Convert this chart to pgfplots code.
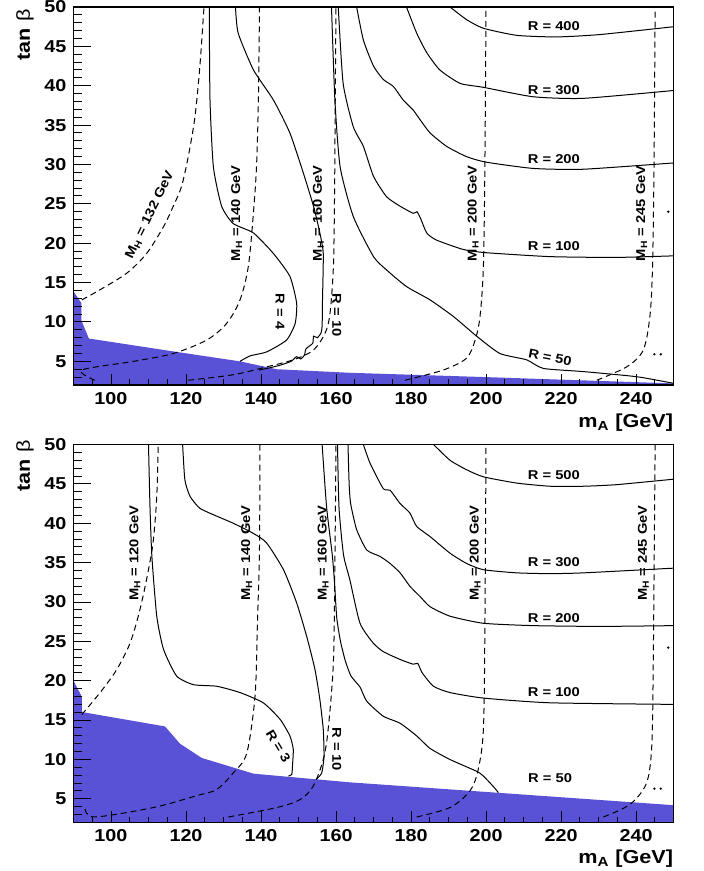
\documentclass[border=0pt]{standalone}
\usepackage{fontspec}
\setmainfont{Liberation Sans}[FakeStretch=1.15]
\usepackage{pgfplots}
\pgfplotsset{compat=1.18}
\definecolor{excl}{RGB}{90,82,214}
\tikzset{lbl/.style={font=\fontsize{6.4}{7}\selectfont\bfseries, inner sep=0.5pt}}
\pgfplotsset{
  base/.style={
    scale only axis, width=300pt, height=189pt,
    xmin=90, xmax=250, ymin=2, ymax=50,
    axis on top, tick align=inside, tick pos=left,
    axis line style={line width=0.6pt},
    every tick/.style={black, line width=0.5pt},
    /pgf/number format/assume math mode=true,
    ticklabel style={font=\fontsize{8.6}{10}\selectfont\bfseries},
    no markers,
  },
  xpart/.style={xtick={80,100,...,260}, minor x tick num=3, ytick=\empty,
    major tick length=5.7pt, minor tick length=2.9pt},
  ypart/.style={xtick=\empty, ytick={0,5,...,50}, minor y tick num=4,
    major tick length=8.8pt, minor tick length=4.3pt},
  cont/.style={black, line width=0.5pt, smooth, tension=0.35},
  mh/.style={black, line width=0.5pt, dash pattern=on 3pt off 2pt, smooth, tension=0.5},
}
\begin{document}
\begin{tikzpicture}[x=1pt,y=1pt]
\useasboundingbox (0,0) rectangle (352,435.5);
% ================= TOP PANEL =================
\begin{axis}[base, xpart, at={(36.75pt,243pt)}, anchor=south west]
\addplot[fill=excl, draw=none] coordinates {(90,13.9)(92.1,12.4)(92.1,10.2)(94.1,7.9)(117.5,6.2)(134.4,5.0)(144.2,4.0)(163.7,3.55)(200,3.0)(250,2.2)(250,0)(90,0)};
% contours
\addplot[cont] coordinates {(190.4,50)(194.8,48.4)(199.3,47.3)(208.2,46.4)(218.8,46.2)(230.4,46.5)(250.1,47.5)};
\addplot[cont] coordinates {(178.8,50)(181.5,46.7)(184.2,44.2)(187.7,42.0)(193.1,40.3)(199.3,39.8)(212.6,38.6)(226,38.4)(250.1,39.4)};
\addplot[cont] coordinates {(165.5,50)(167.3,45.8)(170.0,42.5)(172.6,40.8)(175.3,39.9)(177.9,38.2)(180.6,36.9)(182.4,35.7)(185.1,34.0)(189.5,32.3)(194.8,31.0)(200,30.3)(212.6,29.5)(226,29.4)(250.1,30.2)};
\addplot[cont] coordinates {(160.6,50)(161.9,40.3)(164.6,34.8)(167.3,32.3)(170.0,28.5)(173.5,25.9)(177.1,24.7)(180.6,23.8)(181.6,24.0)(182.6,23.1)(184.2,21.3)(186.8,20.4)(194.0,19.2)(200,18.8)(217.1,18.3)(234.8,18.2)(250.1,18.4)};
\addplot[cont] coordinates {(158.8,50)(159.7,38.2)(161.1,29.7)(164.6,23.4)(170.0,18.3)(173.5,16.6)(178.8,14.5)(185.1,12.8)(191.3,10.7)(197.5,8.2)(203.7,6.0)(210.8,5.2)(215.3,4.1)(226.0,3.7)(240.2,3.05)(250.1,2.2)};
\addplot[cont] coordinates {(133.2,50)(133.9,46.7)(138.0,42.0)(143.3,38.2)(147.7,34.0)(151.3,28.9)(154.0,24.7)(155.7,21.3)(156.6,18.7)(156.4,12.8)(156.3,9.5)(156.0,8.6)(155.0,8.0)(154.0,8.2)(153.8,7.3)(152.0,6.6)(151.6,5.8)(150.6,5.3)(149.5,5.6)(148,5.0)(145,4.5)(142,4.15)(139.5,3.9)};
\addplot[cont] coordinates {(126.2,50)(126.4,38.2)(127.3,29.7)(129.5,24.7)(132.6,22.5)(138.0,21.3)(143.3,18.7)(147.7,15.8)(149.5,12.4)(149.1,9.8)(146.8,7.7)(141.5,6.2)(137.1,5.7)(134.4,5.0)};
% M_H lines
\addplot[mh] coordinates {(92.2,12.8)(97.1,14.1)(104.2,16.2)(109.5,18.7)(114.0,22.1)(116.6,24.7)(118.8,27.2)(120.6,31.0)(122.4,36.1)(123.7,42.5)(124.8,50)};
\addplot[mh] coordinates {(95.7,2.6)(92.2,3.9)(106,5.0)(116.6,6.0)(125.5,7.7)(130.8,9.8)(134.4,12.8)(136.6,17.0)(137.9,23.4)(138.8,29.7)(139.3,38.2)(139.6,50)};
\addplot[mh] coordinates {(120.6,2.6)(132.6,3.3)(141.5,4.3)(148.6,5.2)(153.9,6.4)(157.1,8.6)(158.4,11.1)(159.3,17.0)(159.6,25.5)(159.8,38.2)(160,50)};
\addplot[mh] coordinates {(178.4,2.6)(188.6,3.9)(194.8,5.4)(197.1,7.7)(198.4,10.7)(199.3,17)(199.7,29.7)(200,50)};
\addplot[mh] coordinates {(229.5,2.6)(237.5,4.3)(241.9,6.4)(243.7,10.7)(244.4,17)(244.8,29.7)(245.1,50)};
\addplot[only marks, mark=*, mark size=0.35pt, black] coordinates {(244.9,5.9)(246.6,5.9)(248.6,24.0)};
% labels
\node[lbl, rotate=64] at (axis cs:110.4,23.6) {M\textsubscript{H} = 132 GeV};
\node[lbl, rotate=90] at (axis cs:133.5,23.8) {M\textsubscript{H} = 140 GeV};
\node[lbl, rotate=90] at (axis cs:155.3,23.8) {M\textsubscript{H} = 160 GeV};
\node[lbl, rotate=90] at (axis cs:196.6,23.8) {M\textsubscript{H} = 200 GeV};
\node[lbl, rotate=90] at (axis cs:241.5,23.8) {M\textsubscript{H} = 245 GeV};
\node[lbl, rotate=-90] at (axis cs:145.1,11.3) {R = 4};
\node[lbl, rotate=-90] at (axis cs:160.2,10.9) {R = 10};
\node[lbl, rotate=-11] at (axis cs:217.1,5.5) {R = 50};
\node[lbl] at (axis cs:218.1,19.7) {R = 100};
\node[lbl] at (axis cs:218.1,30.7) {R = 200};
\node[lbl] at (axis cs:218.1,39.5) {R = 300};
\node[lbl] at (axis cs:218.1,47.6) {R = 400};
\end{axis}
\begin{axis}[base, ypart, at={(36.75pt,243pt)}, anchor=south west]
\end{axis}
\node[rotate=90, anchor=east, font=\fontsize{9.4}{11}\selectfont\bfseries, inner sep=0pt] at (12.5,431) {tan {\mdseries β}};
\node[anchor=base east, font=\fontsize{9.4}{11}\selectfont\bfseries, inner sep=0pt] at (336.75,221.7) {m\textsubscript{A} [GeV]};
% ================= BOTTOM PANEL =================
\begin{axis}[base, xpart, at={(36.75pt,24.25pt)}, anchor=south west]
\addplot[fill=excl, draw=none] coordinates {(90,20)(92.2,18)(92.2,16.1)(92.6,16.0)(114.4,14.2)(118.4,12.0)(124.2,10.2)(138,8.2)(163.7,7.1)(250,4.2)(250,0)(90,0)};
\addplot[cont] coordinates {(186,50)(190.4,48.0)(194.8,46.8)(199.3,45.9)(208.2,45.1)(217.1,44.7)(226,44.7)(234.8,44.9)(250.1,45.6)};
\addplot[cont] coordinates {(167.3,50)(169.1,47.6)(172.6,44.4)(174.4,44.2)(177.1,42.5)(179.7,41.3)(181.5,39.6)(185.1,38.3)(190.4,36.2)(194.8,34.9)(199.3,34.1)(208.2,33.7)(217.1,33.6)(226,33.7)(250.1,34.3)};
\addplot[cont] coordinates {(163.2,50)(163.5,45)(163.9,42.5)(165.5,39.2)(168.2,36.6)(171.7,35.8)(174.4,34.9)(177.1,33.7)(179.7,32.0)(182.4,30.7)(185.1,29.4)(190.4,28.2)(199.3,27.3)(212.6,27.0)(230.4,26.9)(250.1,27.0)};
\addplot[cont] coordinates {(160.4,50)(160.8,42)(162,36)(163.7,32.8)(166.4,27.3)(169.9,24.8)(172.6,23.7)(177.1,22.7)(180.6,22.1)(181.8,22.2)(183.0,21.0)(186,19.3)(190.4,18.5)(199.3,17.8)(217.1,17.2)(250.1,17.0)};
\addplot[cont] coordinates {(156.3,50)(157.5,42)(159.0,36)(159.6,32.5)(160.2,28)(161.2,25)(162.5,22.5)(164,20.6)(166.4,19.2)(168.2,17.4)(172.6,15.5)(177.1,14.6)(181.5,13.0)(185.1,11.4)(190.4,10.0)(197.5,8.5)(199.3,7.9)(201.9,6.6)(203.3,5.8)};
\addplot[cont] coordinates {(119.1,50)(119.7,45.5)(121.1,43.4)(123.7,41.9)(128.2,40.9)(132.6,40.0)(138,38.7)(141.5,37.5)(146,34.1)(149.5,29.9)(152.2,25.6)(154.4,21.4)(155.7,17.6)(156.6,13.8)(156.8,10.4)(156.2,8.3)(154.8,7.5)};
\addplot[cont] coordinates {(110,50)(110.4,42)(110.9,35.8)(112.2,28.2)(114,24)(117.5,20.6)(122,19.5)(128.2,19.3)(134.4,18.5)(140.6,17.2)(145.1,15.1)(147.7,13.0)(148.6,11.3)(148.4,9.2)(148.2,8.1)(147.3,7.9)};
\addplot[mh] coordinates {(92.2,15.7)(97.1,18.5)(101.5,21.4)(105.1,24.8)(107.7,29.0)(110.0,34.1)(111.3,37.9)(112.2,43.4)(112.6,50)};
\addplot[mh] coordinates {(93.1,3.7)(95.7,2.7)(111.3,3.9)(122.8,5.4)(128.2,6.2)(132.6,8.3)(136.2,10.8)(138.4,18.0)(139,26.5)(139.6,37.0)(139.7,50)};
\addplot[mh] coordinates {(131.3,2.7)(144.2,3.9)(150.4,4.9)(153.9,6.6)(156.6,10.0)(157.9,13.8)(159.3,22.3)(159.7,34.9)(160,50)};
\addplot[mh] coordinates {(181.5,2.7)(190.4,3.9)(195.7,6.0)(197.9,8.7)(199.3,13.8)(199.7,26.5)(200,50)};
\addplot[mh] coordinates {(231.3,2.7)(238.4,4.3)(242.8,7.0)(244.2,11.7)(244.6,22.3)(245.1,50)};
\addplot[only marks, mark=*, mark size=0.35pt, black] coordinates {(244.9,6.3)(246.6,6.3)(248.6,24.2)};
\node[lbl, rotate=90] at (axis cs:106.4,36.2) {M\textsubscript{H} = 120 GeV};
\node[lbl, rotate=90] at (axis cs:136.2,36.2) {M\textsubscript{H} = 140 GeV};
\node[lbl, rotate=90] at (axis cs:156.6,36.2) {M\textsubscript{H} = 160 GeV};
\node[lbl, rotate=90] at (axis cs:197.1,36.2) {M\textsubscript{H} = 200 GeV};
\node[lbl, rotate=90] at (axis cs:242.0,36.2) {M\textsubscript{H} = 245 GeV};
\node[lbl, rotate=-59] at (axis cs:144.6,11.7) {R = 3};
\node[lbl, rotate=-90] at (axis cs:160.2,11.3) {R = 10};
\node[lbl] at (axis cs:217.1,7.6) {R = 50};
\node[lbl] at (axis cs:218.1,18.5) {R = 100};
\node[lbl] at (axis cs:218.1,28.0) {R = 200};
\node[lbl] at (axis cs:218.1,35.1) {R = 300};
\node[lbl] at (axis cs:218.1,46.1) {R = 500};
\end{axis}
\begin{axis}[base, ypart, at={(36.75pt,24.25pt)}, anchor=south west]
\end{axis}
\node[rotate=90, anchor=east, font=\fontsize{9.4}{11}\selectfont\bfseries, inner sep=0pt] at (12.5,215.5) {tan {\mdseries β}};
\node[anchor=base east, font=\fontsize{9.4}{11}\selectfont\bfseries, inner sep=0pt] at (336.75,3.8) {m\textsubscript{A} [GeV]};
\end{tikzpicture}
\end{document}
